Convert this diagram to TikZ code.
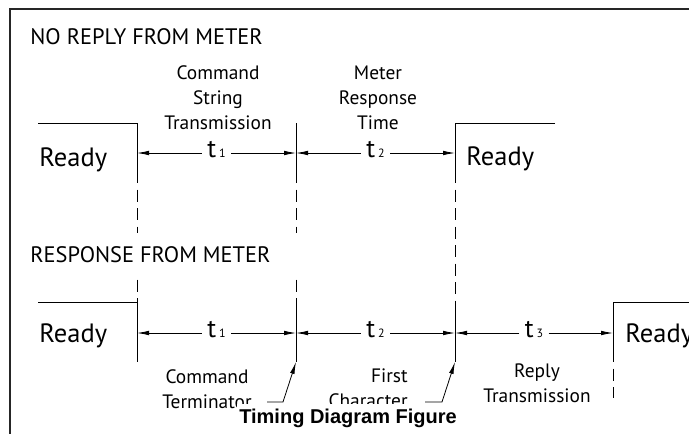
\documentclass[tikz,border=0pt]{standalone}
\usepackage{fontspec}
\setmainfont{PT Sans}
\newfontfamily\capfont{Liberation Sans}
\usetikzlibrary{arrows.meta, positioning}
\newcommand\tsub[1]{t\hspace{3pt}{\fontsize{12}{12}\selectfont #1}}

\begin{document}
\begin{tikzpicture}[x=1pt, y=-1pt, line width=0.8pt, >={Latex[length=12pt,width=4.6pt]}]
    \tikzstyle{heading}=[anchor=base west, inner sep=0pt, font=\fontsize{22.4}{22.4}\selectfont]
    \tikzstyle{ready}=[anchor=base west, inner sep=0pt, font=\fontsize{26.5}{26.5}\selectfont]
    \tikzstyle{note}=[align=center, anchor=base, inner sep=0pt, font=\fontsize{19.4}{25}\selectfont]
    \tikzstyle{tlabel}=[inner xsep=5pt, inner ysep=0pt, text height=15pt, text depth=7pt, font=\fontsize{26}{26}\selectfont]
    \tikzstyle{idle}=[dash pattern=on 12pt off 6.5pt, dash phase=12pt]

    \useasboundingbox (0,0) rectangle (689,434);
    \draw[line width=2pt, black!85] (689,8.5) -- (9.5,8.5) -- (9.5,434);

%   headings
    \node[heading] (noreply) at (30,44) {NO REPLY FROM METER};
    \node[heading] (response) at (30,262) {RESPONSE FROM METER};

%   line states
    \draw (38,123) -| (137,183);
    \draw (296,123) -- (296,183);
    \draw (555,123) -| (455,183);
    \draw (38,302) -| (137,362);
    \draw (296,302) -- (296,362);
    \draw (455,302) -- (455,362);
    \draw (689,302) -| (613,362);

    \foreach \x in {137,296}{
        \draw[idle] (\x,183) -- (\x,233);
        \draw[idle] (\x,273) -- (\x,302);
    }
    \draw[idle] (455,183) -- (455,302);
    \draw[idle] (613,362) -- (613,398);

    \node[ready] (R-1) at (39,166) {Ready};
    \node[ready] (R-2) at (466,165) {Ready};
    \node[ready] (R-3) at (39,342) {Ready};
    \node[ready] (R-4) at (625,342) {Ready};

%   times
    \foreach \x/\i in {137/1, 296/2, 455/3}{
        \coordinate (U-\i) at (\x,153);
        \coordinate (L-\i) at (\x,333);
    }
    \coordinate (L-4) at (613,333);

    \foreach \i/\j in {1/2, 2/3}{
        \path (U-\i) -- (U-\j) node[midway, tlabel] (tu-\i) {\tsub{\i}};
        \draw[->] (tu-\i) -- (U-\i);
        \draw[->] (tu-\i) -- (U-\j);
    }
    \foreach \i/\j in {1/2, 2/3, 3/4}{
        \path (L-\i) -- (L-\j) node[midway, tlabel] (tl-\i) {\tsub{\i}};
        \draw[->] (tl-\i) -- (L-\i);
        \draw[->] (tl-\i) -- (L-\j);
    }

%   notes (placed by the baseline of their last line)
    \node[note] (cmd) at (218,129) {Command\\String\\Transmission};
    \node[note] (mrt) at (378,129) {Meter\\Response\\Time};
    \node[note] (term) at (207,408) {Command\\Terminator};
    \node[note, align=right, anchor=base east] (first) at (408,407) {First\\Character};
    \node[note] (reply) at (537,402) {Reply\\Transmission};

    \node[fill=white, inner xsep=2pt, inner ysep=4.5pt, anchor=base, font=\capfont\bfseries\fontsize{20}{20}\selectfont]
        (caption) at (348,423) {Timing Diagram Figure};

%   pointers
    \coordinate (B-2) at (296,362);
    \coordinate (B-3) at (455,362);
    \coordinate (term-tail) at (267,402);
    \coordinate (first-tail) at (425,402);
    \draw[->] (term-tail) -- ++(16,0) -- (B-2);
    \draw[->] (first-tail) -- ++(17,0) -- (B-3);
\end{tikzpicture}
\end{document}
